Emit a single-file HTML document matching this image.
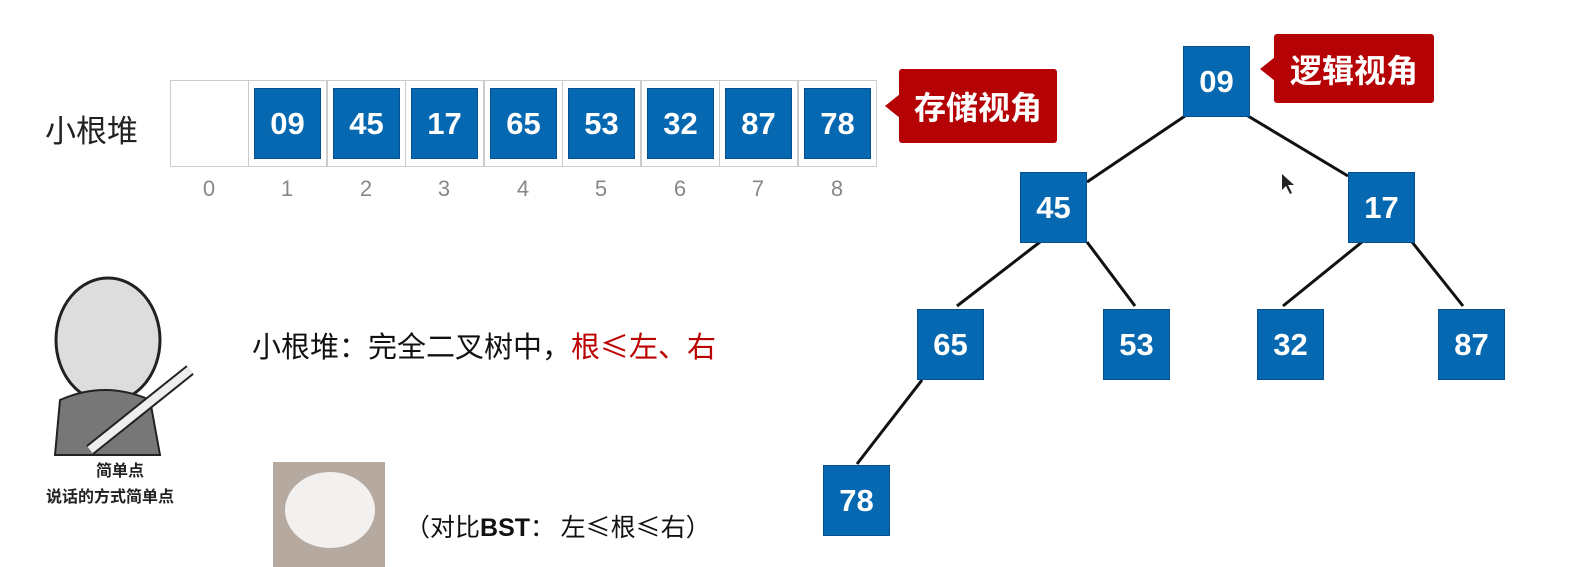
<!DOCTYPE html>
<html><head><meta charset="utf-8"><style>
body{margin:0;width:1582px;height:567px;background:#fff;position:relative;overflow:hidden;font-family:"Liberation Sans","Noto Sans CJK SC",sans-serif}
.a{position:absolute}
.n{position:absolute;width:67px;height:71px;background:#0568b0;color:#fff;font-weight:bold;font-size:31px;display:flex;align-items:center;justify-content:center;box-sizing:border-box;border:1px solid #045090}
.c{position:absolute;top:80px;height:87px;width:79px;border:1px solid #ccc;box-sizing:border-box}
.i{position:absolute;top:176px;font-size:22px;color:#888;width:78px;text-align:center}
.co{position:absolute;background:#b50305;color:#fff;font-weight:bold;font-size:32px;display:flex;align-items:center;justify-content:center;border-radius:3px;font-family:"Noto Sans CJK SC",sans-serif}
.co:before{content:"";position:absolute;left:-14px;top:50%;margin-top:-12px;border-right:15px solid #b50305;border-top:12px solid transparent;border-bottom:12px solid transparent}
</style></head><body>
<div class="a" style="left:45px;top:106px;font-size:31px;color:#222;font-family:'Noto Sans CJK SC',sans-serif">小根堆</div>
<div class="c" style="left:170px"></div><div class="c" style="left:248px"></div><div class="c" style="left:327px"></div><div class="c" style="left:405px"></div><div class="c" style="left:484px"></div><div class="c" style="left:562px"></div><div class="c" style="left:641px"></div><div class="c" style="left:719px"></div><div class="c" style="left:798px"></div>
<div class="n" style="left:254px;top:88px">09</div><div class="n" style="left:333px;top:88px">45</div><div class="n" style="left:411px;top:88px">17</div><div class="n" style="left:490px;top:88px">65</div><div class="n" style="left:568px;top:88px">53</div><div class="n" style="left:647px;top:88px">32</div><div class="n" style="left:725px;top:88px">87</div><div class="n" style="left:804px;top:88px">78</div>
<div class="i" style="left:170px">0</div><div class="i" style="left:248px">1</div><div class="i" style="left:327px">2</div><div class="i" style="left:405px">3</div><div class="i" style="left:484px">4</div><div class="i" style="left:562px">5</div><div class="i" style="left:641px">6</div><div class="i" style="left:719px">7</div><div class="i" style="left:798px">8</div>
<div class="co" style="left:899px;top:69px;width:158px;height:74px">存储视角</div>
<div class="co" style="left:1274px;top:34px;width:160px;height:69px">逻辑视角</div>
<svg class="a" style="left:0;top:0" width="1582" height="567">
<g stroke="#111" stroke-width="3">
<line x1="1185" y1="116" x2="1087" y2="182"/><line x1="1248" y1="116" x2="1348" y2="176"/>
<line x1="1040" y1="242" x2="957" y2="306"/><line x1="1087" y1="242" x2="1135" y2="306"/>
<line x1="1362" y1="242" x2="1283" y2="306"/><line x1="1412" y1="242" x2="1463" y2="306"/>
<line x1="922" y1="380" x2="857" y2="464"/></g>
<path d="M1282 174 l0 16 l4 -4 l4 8 l2 -1 l-4 -8 l6 0z" fill="#222"/>
<ellipse cx="108" cy="340" rx="52" ry="62" fill="#ddd" stroke="#222" stroke-width="3"/>
<path d="M60 400 q45 -20 90 0 l10 55 l-105 0z" fill="#777" stroke="#222" stroke-width="2"/>
<path d="M90 450 l100 -80" stroke="#222" stroke-width="12"/><path d="M90 450 l100 -80" stroke="#eee" stroke-width="8"/>
<rect x="273" y="462" width="112" height="105" fill="#b5a9a0"/>
<ellipse cx="330" cy="510" rx="45" ry="38" fill="#f3f1ef"/>
</svg>
<div class="a" style="left:96px;top:457px;font-size:16px;font-weight:bold;color:#222;font-family:'Noto Sans CJK SC',sans-serif">简单点</div>
<div class="a" style="left:46px;top:483px;font-size:16px;font-weight:bold;color:#222;font-family:'Noto Sans CJK SC',sans-serif">说话的方式简单点</div>
<div class="a" style="left:252px;top:324px;font-size:29px;color:#111;font-family:'Noto Sans CJK SC',sans-serif">小根堆：完全二叉树中，<span style="color:#b00">根≤左、右</span></div>
<div class="a" style="left:405px;top:508px;font-size:25px;color:#111;font-family:'Noto Sans CJK SC',sans-serif">（对比<b style="font-family:'Liberation Sans'">BST</b>： 左≤根≤右）</div>
<div class="n" style="left:1183px;top:46px">09</div>
<div class="n" style="left:1020px;top:172px">45</div>
<div class="n" style="left:1348px;top:172px">17</div>
<div class="n" style="left:917px;top:309px">65</div>
<div class="n" style="left:1103px;top:309px">53</div>
<div class="n" style="left:1257px;top:309px">32</div>
<div class="n" style="left:1438px;top:309px">87</div>
<div class="n" style="left:823px;top:465px">78</div>
</body></html>
